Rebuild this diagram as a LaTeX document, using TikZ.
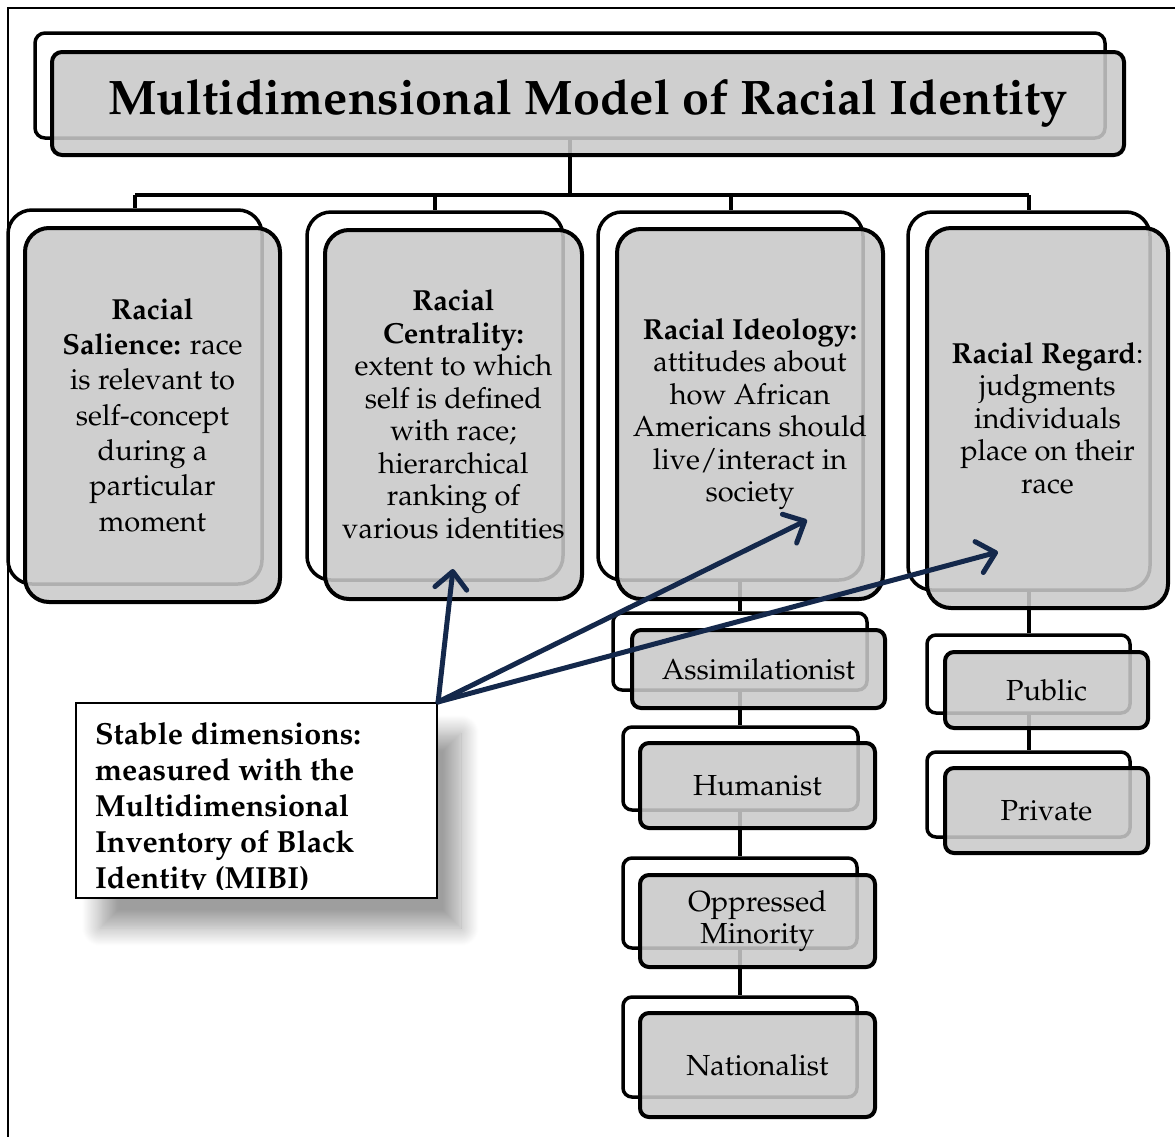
\documentclass[tikz,border=0pt]{standalone}
\usepackage[T1]{fontenc}
\usepackage{mathpazo}
\usepackage{xcolor}
\definecolor{boxgray}{HTML}{C9C9C9}
\definecolor{navy}{HTML}{14284B}
\usepackage{tikz}
\usetikzlibrary{arrows.meta,shadows.blur}
\tikzset{
  backbox/.style={draw=black,line width=3.5pt,fill=white,rounded corners=#1,inner sep=0pt},
  backbox/.default=9pt,
  frontbox/.style={draw=black,line width=4pt,fill=boxgray,fill opacity=.875,text opacity=1,
    rounded corners=#1,align=center,inner sep=0pt,font=\fontsize{29}{32.5}\selectfont},
  frontbox/.default=9pt,
  conn/.style={draw=black,line width=4pt},
  pointer/.style={-{Straight Barb[length=17pt,width=32pt,round]},line width=5pt,navy,line cap=round},
  notebox/.style={draw=black,line width=2.2pt,fill=white,
    blur shadow={shadow xshift=24pt,shadow yshift=-30pt,shadow blur radius=18pt,
      shadow blur steps=24,shadow opacity=38}},
  notetext/.style={align=left,inner xsep=20pt,inner ysep=20pt,font=\fontsize{30.5}{36}\selectfont\bfseries},
  frame/.style={draw=black,line width=2pt}}

\begin{document}
\begin{tikzpicture}[x=1pt,y=-1pt]
  \useasboundingbox (0,0) rectangle (1175,1136);
  \draw[frame] (8,8) rectangle (1190,1150);
  % back layer of every box
  \node[backbox=10pt,minimum width=1070pt,minimum height=105pt] (title-b) at (570,85.5) {};
  \node[backbox=24pt,minimum width=254pt,minimum height=374pt] (sal-b) at (135,397) {};
  \node[backbox=24pt,minimum width=256pt,minimum height=368pt] (cen-b) at (435,396) {};
  \node[backbox=24pt,minimum width=265pt,minimum height=368pt] (ide-b) at (730.5,396) {};
  \node[backbox=24pt,minimum width=242pt,minimum height=378pt] (reg-b) at (1029,401) {};
  \node[backbox,minimum width=254pt,minimum height=77pt] (assim-b) at (740,651.5) {};
  \node[backbox,minimum width=235pt,minimum height=83pt] (human-b) at (740.5,768.5) {};
  \node[backbox,minimum width=234pt,minimum height=90pt] (oppr-b) at (740,903) {};
  \node[backbox,minimum width=234pt,minimum height=100pt] (nat-b) at (740,1047) {};
  \node[backbox,minimum width=203pt,minimum height=78pt] (pub-b) at (1028.5,674) {};
  \node[backbox,minimum width=203pt,minimum height=85pt] (priv-b) at (1028.5,794.5) {};
  % tree lines
  \coordinate (bus) at (0,195);
  \draw[conn] (title-b.south) -- (title-b.center |- bus);
  \draw[conn] (sal-b.north |- bus) -- (reg-b.north |- bus);
  \foreach \n in {sal,cen,ide,reg}
    \draw[conn] (\n-b.north |- bus) -- (\n-b.north);
  \draw[conn] (ide-b.south -| assim-b.north) -- (assim-b.north);
  \draw[conn] (assim-b.south) -- (human-b.north -| assim-b.south);
  \draw[conn] (human-b.south -| assim-b.south) -- (oppr-b.north -| assim-b.south);
  \draw[conn] (oppr-b.south -| assim-b.south) -- (nat-b.north -| assim-b.south);
  \draw[conn] (reg-b.south -| pub-b.north) -- (pub-b.north);
  \draw[conn] (pub-b.south) -- (priv-b.north);
  % front layer with the texts
  \node[frontbox=10pt,minimum width=1072pt,minimum height=103pt,font=\fontsize{48.5}{58}\selectfont\bfseries] (title) at (588,103.5) {Multidimensional Model of Racial Identity};
  \node[frontbox=24pt,minimum width=255pt,minimum height=374pt,font=\fontsize{29}{35.3}\selectfont] (sal) at (152.5,415) {\textbf{Racial}\\\textbf{Salience:} race\\is relevant to\\self-concept\\during a\\particular\\moment};
  \node[frontbox=24pt,minimum width=257pt,minimum height=369pt] (cen) at (453.5,414.5) {\textbf{Racial}\\\textbf{Centrality:}\\extent to which\\self is defined\\with race;\\hierarchical\\ranking of\\various identities};
  \node[frontbox=24pt,minimum width=266pt,minimum height=370pt] (ide) at (750,414) {\textbf{Racial Ideology:}\\attitudes about\\how African\\Americans should\\live/interact in\\society};
  \node[frontbox=24pt,minimum width=241pt,minimum height=380pt] (reg) at (1047.5,418) {\textbf{Racial Regard}:\\judgments\\individuals\\place on their\\race};
  \node[frontbox,minimum width=253pt,minimum height=78pt] (assim) at (758.5,669) {Assimilationist};
  \node[frontbox,minimum width=235pt,minimum height=85pt] (human) at (757.5,785.5) {Humanist};
  \node[frontbox,minimum width=235pt,minimum height=92pt] (oppr) at (757.5,921) {Oppressed\\Minority};
  \node[frontbox,minimum width=235pt,minimum height=104pt] (nat) at (757.5,1065) {Nationalist};
  \node[frontbox,minimum width=203pt,minimum height=76pt] (pub) at (1046.5,690) {Public};
  \node[frontbox,minimum width=203pt,minimum height=85pt] (priv) at (1046.5,810.5) {Private};
  % MIBI note
  \node[notebox,minimum width=361pt,minimum height=195pt,inner sep=0pt] (mibi) at (256.5,800.5) {};
  \begin{scope}
    \clip (mibi.north west) rectangle ([yshift=10pt]mibi.south east);
    \node[notetext,anchor=north west] (mibi-txt) at (mibi.north west) {Stable dimensions:\\measured with the\\Multidimensional\\Inventory of Black\\Identity (MIBI)};
  \end{scope}
  \coordinate (cen-pt) at (453,569);
  \coordinate (ide-pt) at (807,520);
  \coordinate (reg-pt) at (998,552);
  \draw[pointer] (mibi.north east) -- (cen-pt);
  \draw[pointer] (mibi.north east) -- (ide-pt);
  \draw[pointer] (mibi.north east) -- (reg-pt);
\end{tikzpicture}
\end{document}
